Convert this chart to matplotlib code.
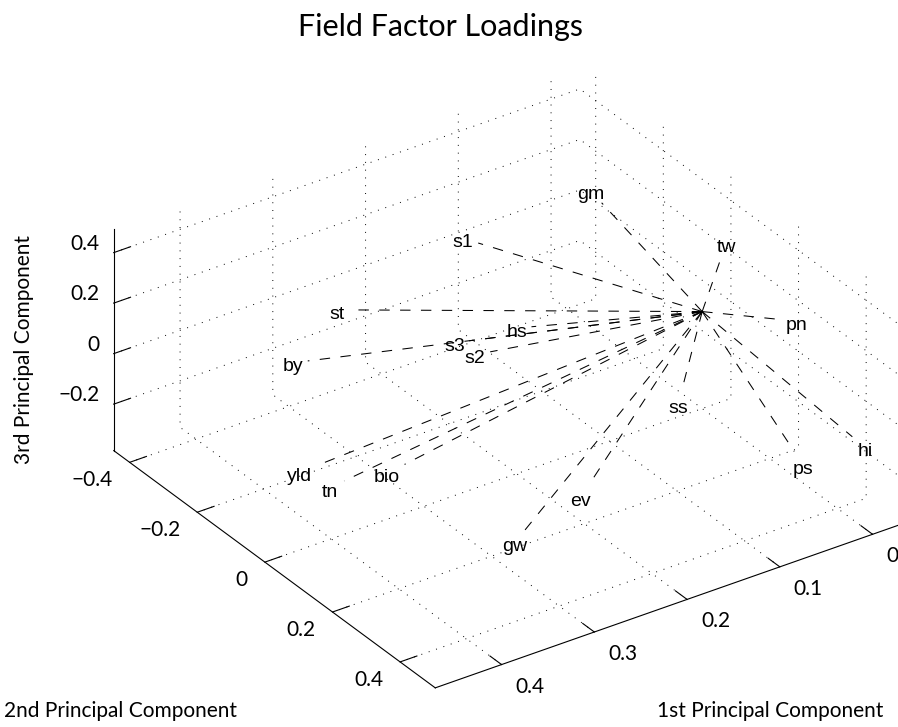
import numpy as np
import matplotlib
matplotlib.use("Agg")
import matplotlib.pyplot as plt

# variable names and their loadings on the first three principal components
names = ["gm", "s1", "tw", "pn", "hi", "ps", "ss", "hs", "st",
         "s3", "s2", "by", "yld", "tn", "bio", "ev", "gw"]
pc1 = [0.088, 0.150, 0.020, -0.031, 0.020, 0.040, 0.080, 0.160, 0.280,
       0.220, 0.210, 0.270, 0.460, 0.440, 0.400, 0.200, 0.250]
pc2 = [-0.056, -0.251, 0.111, 0.152, 0.499, 0.382, 0.159, -0.066, -0.271,
       -0.086, -0.051, -0.426, 0.126, 0.148, 0.217, 0.215, 0.162]
pc3 = [0.489, 0.217, 0.349, 0.078, 0.023, -0.125, -0.052, 0.081, 0.100,
       0.083, 0.061, -0.268, 0.110, 0.043, 0.125, -0.213, -0.382]

x_ticks = [0, 0.1, 0.2, 0.3, 0.4]
y_ticks = [-0.4, -0.2, 0, 0.2, 0.4]
z_ticks = [-0.2, 0, 0.2, 0.4]
x_labels = ["0", "0.1", "0.2", "0.3", "0.4"]
y_labels = ["\u22120.4", "\u22120.2", "0", "0.2", "0.4"]
z_labels = ["\u22120.2", "0", "0.2", "0.4"]

xlim = (-0.031, 0.4715)
ylim = (-0.447, 0.504)
zlim = (-0.384, 0.494)

plt.rcParams['font.family'] = ['Lato', 'DejaVu Sans']

fig = plt.figure(figsize=(8.98, 7.27), dpi=100)
ax = fig.add_axes([-0.0195, -0.0947, 1.1448, 1.1232], projection='3d')
ax.set_proj_type('ortho')
ax.view_init(elev=30.6, azim=55.4)
ax.set_box_aspect((1, 1, 0.455))

for name, x, y, z in zip(names, pc1, pc2, pc3):
    ax.plot([0, x], [0, y], [0, z], color='k', lw=0.75,
            linestyle=(0, (10, 10)))

ax.set_xlim(*xlim)
ax.set_ylim(*ylim)
ax.set_zlim(*zlim)
ax.set_xticks(x_ticks)
ax.set_yticks(y_ticks)
ax.set_zticks(z_ticks)
# tick labels are placed by hand below
ax.set_xticklabels([""] * len(x_ticks))
ax.set_yticklabels([""] * len(y_ticks))
ax.set_zticklabels([""] * len(z_ticks))

for axis in (ax.xaxis, ax.yaxis, ax.zaxis):
    axis.set_pane_color((1, 1, 1, 0))
    axis.pane.set_edgecolor('none')
    axis.line.set_color('k')
    axis.line.set_linewidth(0.8)
    axis._axinfo['grid'].update(color='k', linewidth=0.7,
                                linestyle=(0, (1, 7)))
    axis._axinfo['tick'].update(inward_factor=0.0, outward_factor=0.45,
                                linewidth={True: 0.8, False: 0.5})

fig.canvas.draw()
M = ax.get_proj()


def project(x, y, z):
    v = M @ np.array([x, y, z, 1.0])
    return v[0] / v[3], v[1] / v[3]


def put_label(text, pos, dx, dy, ha):
    # dx, dy in pixels, screen y pointing up
    ax.annotate(text, pos, xytext=(dx * 0.72, dy * 0.72),
                textcoords='offset points', ha=ha, va='center', fontsize=15)


for t, lab in zip(x_ticks, x_labels):
    put_label(lab, project(t, ylim[1], zlim[0]), 14, -22, 'left')
for t, lab in zip(y_ticks, y_labels):
    put_label(lab, project(xlim[1], t, zlim[0]), -17, -18, 'right')
for t, lab in zip(z_ticks, z_labels):
    put_label(lab, project(xlim[1], ylim[0], t), -14, 9, 'right')

# text labels at the end of each loading vector, pushed away from the origin
o2 = project(0, 0, 0)
o_disp = ax.transData.transform(o2)
for name, x, y, z in zip(names, pc1, pc2, pc3):
    p2 = project(x, y, z)
    d = ax.transData.transform(p2) - o_disp
    u = d / np.hypot(d[0], d[1])
    w = 8.0 * len(name)
    dist = 6 + 0.5 * w * abs(u[0]) + 7 * abs(u[1])
    ax.annotate(name, p2, xytext=(u[0] * dist * 0.72, u[1] * dist * 0.72 - 3),
                textcoords='offset points', ha='center', va='center',
                fontsize=14, family='Liberation Sans')

fig.text(440 / 898, 1 - 27 / 727, "Field Factor Loadings", fontsize=22,
         ha='center', va='center')
fig.text(120 / 898, 1 - 711 / 727, "2nd Principal Component", fontsize=15,
         ha='center', va='center')
fig.text(770 / 898, 1 - 711 / 727, "1st Principal Component", fontsize=15,
         ha='center', va='center')
fig.text(24 / 898, 1 - 350 / 727, "3rd Principal Component", fontsize=15,
         ha='center', va='center', rotation=90)

fig.savefig("out.png", dpi=100)
